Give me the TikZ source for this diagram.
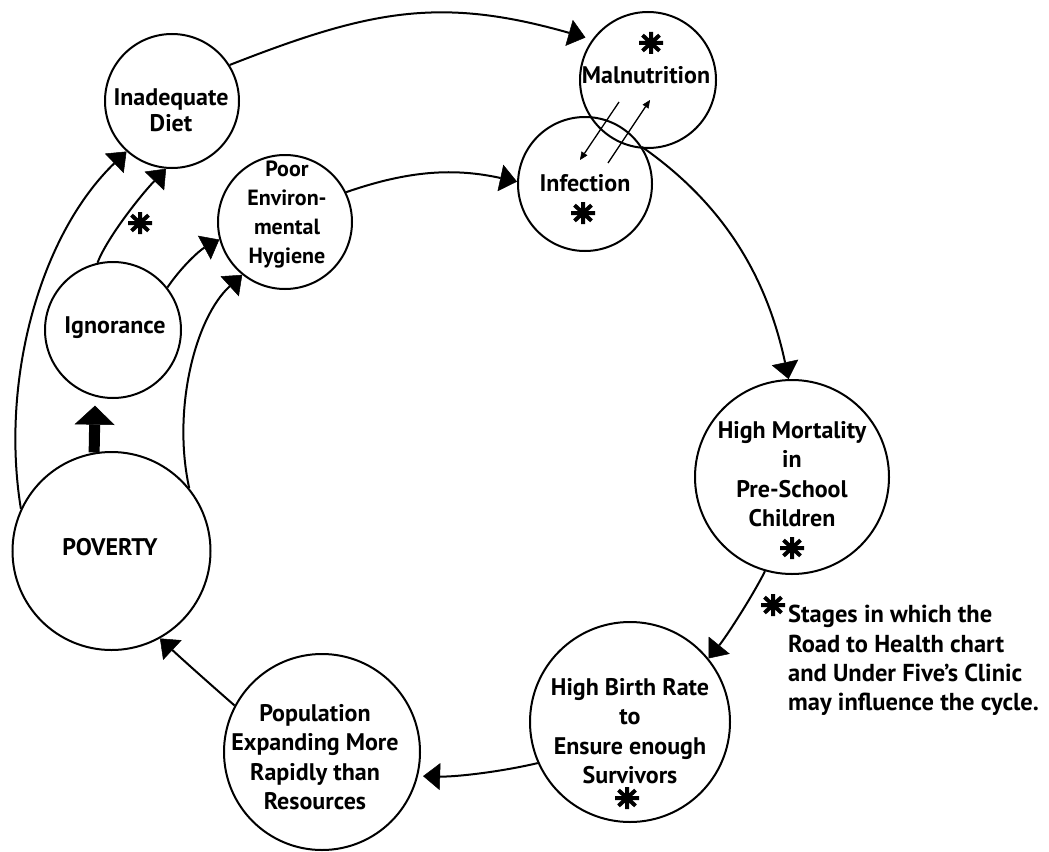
\documentclass[tikz,border=0pt]{standalone}
\usepackage{fontspec}
\setmainfont{PT Sans}
\usetikzlibrary{arrows.meta}
\newcommand\astk[1]{%
  \draw[astkline] (#1) +(-12pt,0) -- +(12pt,0)
    (#1) +(0,-11pt) -- +(0,11pt)
    (#1) +(-8.5pt,-7.8pt) -- +(8.5pt,7.8pt)
    (#1) +(-8.5pt,7.8pt) -- +(8.5pt,-7.8pt);}
\begin{document}
\begin{tikzpicture}[x=1pt,y=-1pt,
  circ/.style={draw, circle, line width=2pt, inner sep=0pt, minimum size=#1},
  lbl/.style={font=\bfseries\fontsize{24}{29.5}\selectfont, align=center, inner sep=0pt},
  conn/.style={line width=2pt, -{Triangle[length=17pt,width=27pt,line width=0.5pt]}},
  small/.style={line width=1.3pt, -{Triangle[length=8pt,width=7pt,line width=0.5pt]}},
  astkline/.style={line width=4pt},
]
\useasboundingbox (0,0) rectangle (1049,851);

% circles
\node[circ=134pt] (diet)  at (172,101) {};
\node[circ=136pt] (maln)  at (648,80)  {};
\node[circ=134pt] (inf)   at (585,184) {};
\node[circ=134pt] (poor)  at (285,222) {};
\node[circ=136pt] (ign)   at (113,330) {};
\node[circ=198pt] (pov)   at (111.5,551) {};
\node[circ=194pt] (mort)  at (792,477) {};
\node[circ=200pt] (birth) at (630,722) {};
\node[circ=196pt] (pop)   at (322,752) {};

% texts
\node[lbl] (diet-t)  at (171,110) {Inadequate\\[-3.5pt]Diet};
\node[lbl] (maln-t)  at (646,75)  {Malnutrition};
\node[lbl] (inf-t)   at (585,183) {Infection};
\node[lbl, font=\bfseries\fontsize{22}{29}\selectfont] (poor-t) at (287,215) {Poor\\Environ-\\mental\\Hygiene};
\node[lbl] (ign-t)   at (115,328) {Ignorance};
\node[lbl] (pov-t)   at (110,547) {POVERTY};
\node[lbl] (mort-t)  at (792,474) {High Mortality\\in\\Pre-School\\Children};
\node[lbl] (birth-t) at (630,731) {High Birth Rate\\to\\Ensure enough\\Survivors};
\node[lbl] (pop-t)   at (315,757) {Population\\Expanding More\\Rapidly than\\Resources};
\node[lbl, font=\bfseries\fontsize{24.5}{29.3}\selectfont, align=left, anchor=north west] (legend) at (788,605)
  {Stages in which the\\Road to Health chart\\and Under Five's Clinic\\may influence the cycle.};

% asterisks
\astk{651,43}
\astk{583,213}
\astk{792,548}
\astk{627,798}
\astk{140,223}
\astk{773,605}

% connectors
\draw[conn, shorten >=7pt] (diet.32) .. controls (370,10) and (440,-4) .. (maln.144);
\draw[conn] (poor.26) .. controls (410,170) and (455,168) .. (inf.178);
\draw[conn] (inf.33) .. controls (725,205) and (767,278) .. (mort.92);
\draw[conn] (mort.254) .. controls (752,597) and (726,637) .. (birth.39);
\draw[conn, shorten >=5pt] (birth.204) .. controls (500,772) and (455,777) .. (pop.-14);
\draw[conn] (pop.152) .. controls (210,684) and (183,660) .. (pov.-61);
\draw[conn] (pov.155) .. controls (0,380) and (40,235) .. (diet.228);
\draw[conn] (ign.103) .. controls (107,238) and (140,196) .. (diet.265);
\draw[conn] (ign.38) .. controls (182,266) and (200,250) .. (poor.195);
\draw[conn] (pov.39) .. controls (172,410) and (195,318) .. (poor.231);
\draw[line width=11pt, -{Triangle[length=19pt,width=40pt,line width=0.5pt]}, shorten >=9pt]
  (pov.100) -- (ign.255);

% malnutrition <-> infection
\coordinate (m1) at (619,102);
\coordinate (i1) at (580,160);
\coordinate (i2) at (608,163);
\coordinate (m2) at (650,100);
\draw[small] (m1) -- (i1);
\draw[small] (i2) -- (m2);
\end{tikzpicture}
\end{document}
